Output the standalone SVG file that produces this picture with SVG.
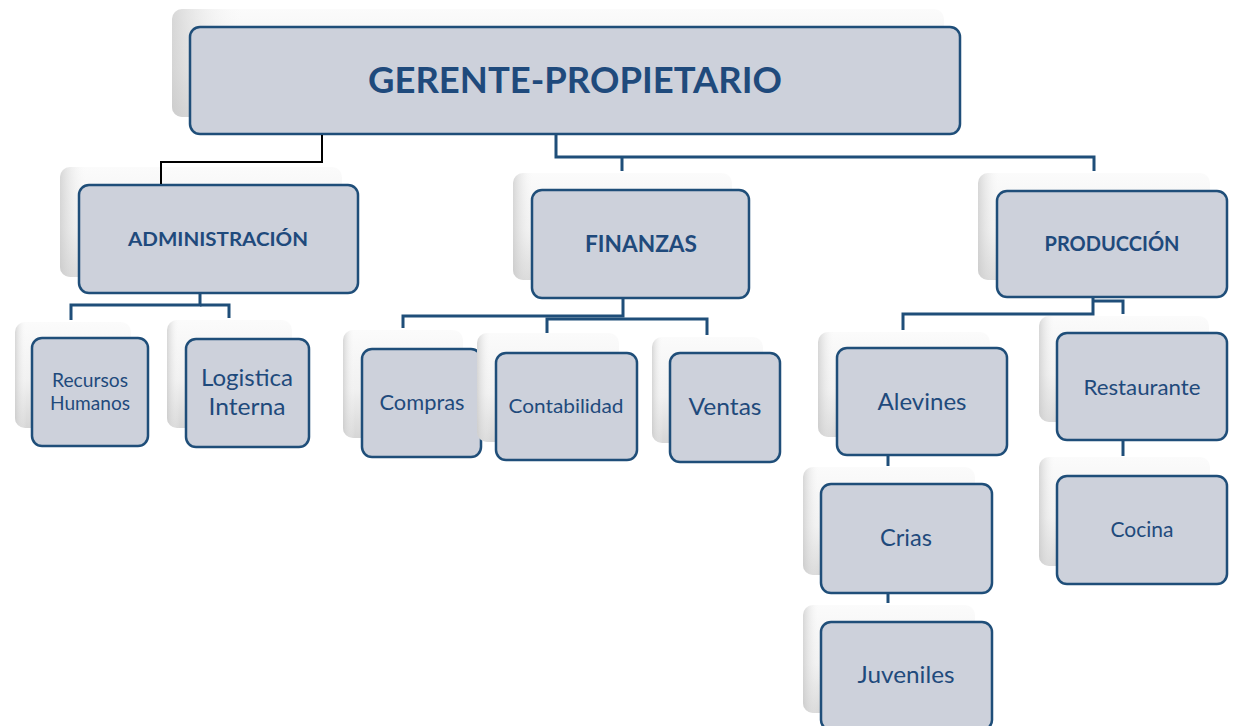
<svg xmlns="http://www.w3.org/2000/svg" width="1237" height="726" viewBox="0 0 1237 726">
<defs>
<linearGradient id="shv" x1="0" y1="0" x2="0" y2="1">
<stop offset="0" stop-color="#fbfbfb"/>
<stop offset="0.55" stop-color="#f1f1f1"/>
<stop offset="1" stop-color="#d6d6d6"/>
</linearGradient>
<linearGradient id="shh" x1="0" y1="0" x2="1" y2="0">
<stop offset="0" stop-color="#c8c8c8" stop-opacity="0.7"/>
<stop offset="0.1" stop-color="#ffffff" stop-opacity="0"/>
<stop offset="1" stop-color="#ffffff" stop-opacity="0"/>
</linearGradient>
</defs>
<style>
.sh{fill:url(#shv);}
.shl{fill:url(#shh);}
.bx{fill:#cdd1db;stroke:#1f4e79;stroke-width:2.5;}
.t{font-family:Lato,"Open Sans","Liberation Sans",sans-serif;fill:#1f4a7c;text-anchor:middle;}
.b{font-weight:bold;}
.c{fill:none;stroke:#1f4e79;stroke-width:3;}
.k{fill:none;stroke:#000000;stroke-width:2;}
</style>
<rect width="1237" height="726" fill="#ffffff"/>

<g id="gerente">
<rect class="sh" x="172" y="9" width="772" height="108" rx="10"/>
<rect class="shl" x="172" y="9" width="772" height="108" rx="10"/>
<rect class="bx" x="190" y="27" width="770" height="107" rx="10"/>
<text class="t b" x="575" y="93" font-size="37" textLength="414" lengthAdjust="spacingAndGlyphs">GERENTE-PROPIETARIO</text>
</g>

<g id="administracion">
<rect class="sh" x="60" y="167" width="282" height="110" rx="10"/>
<rect class="shl" x="60" y="167" width="282" height="110" rx="10"/>
<rect class="bx" x="79" y="185" width="279" height="108" rx="10"/>
<text class="t b" x="218" y="246" font-size="19.5" textLength="180" lengthAdjust="spacingAndGlyphs">ADMINISTRACIÓN</text>
</g>

<g id="finanzas">
<rect class="sh" x="513" y="173" width="219" height="107" rx="10"/>
<rect class="shl" x="513" y="173" width="219" height="107" rx="10"/>
<rect class="bx" x="532" y="190" width="217" height="108" rx="10"/>
<text class="t b" x="641" y="252" font-size="23" textLength="112" lengthAdjust="spacingAndGlyphs">FINANZAS</text>
</g>

<g id="produccion">
<rect class="sh" x="978" y="173" width="232" height="107" rx="10"/>
<rect class="shl" x="978" y="173" width="232" height="107" rx="10"/>
<rect class="bx" x="997" y="191" width="230" height="106" rx="10"/>
<text class="t b" x="1112" y="251" font-size="20.5" textLength="135" lengthAdjust="spacingAndGlyphs">PRODUCCIÓN</text>
</g>

<g id="recursos-humanos">
<rect class="sh" x="15" y="322" width="116" height="106" rx="10"/>
<rect class="shl" x="15" y="322" width="116" height="106" rx="10"/>
<rect class="bx" x="32" y="338" width="116" height="108" rx="10"/>
<text class="t" x="90" y="387" font-size="19" textLength="76" lengthAdjust="spacingAndGlyphs">Recursos</text>
<text class="t" x="90" y="410" font-size="19" textLength="80" lengthAdjust="spacingAndGlyphs">Humanos</text>
</g>

<g id="logistica-interna">
<rect class="sh" x="167" y="320" width="125" height="108" rx="10"/>
<rect class="shl" x="167" y="320" width="125" height="108" rx="10"/>
<rect class="bx" x="186" y="339" width="123" height="108" rx="10"/>
<text class="t" x="247" y="386" font-size="24" textLength="92" lengthAdjust="spacingAndGlyphs">Logistica</text>
<text class="t" x="247" y="415" font-size="24" textLength="77" lengthAdjust="spacingAndGlyphs">Interna</text>
</g>

<g id="compras">
<rect class="sh" x="343" y="330" width="120" height="108" rx="10"/>
<rect class="shl" x="343" y="330" width="120" height="108" rx="10"/>
<rect class="bx" x="362" y="349" width="119" height="108" rx="10"/>
<text class="t" x="422" y="410" font-size="21" textLength="85" lengthAdjust="spacingAndGlyphs">Compras</text>
</g>

<g id="contabilidad">
<rect class="sh" x="477" y="333" width="142" height="109" rx="10"/>
<rect class="shl" x="477" y="333" width="142" height="109" rx="10"/>
<rect class="bx" x="496" y="353" width="141" height="107" rx="10"/>
<text class="t" x="566" y="413" font-size="20" textLength="115" lengthAdjust="spacingAndGlyphs">Contabilidad</text>
</g>

<g id="ventas">
<rect class="sh" x="652" y="337" width="111" height="106" rx="10"/>
<rect class="shl" x="652" y="337" width="111" height="106" rx="10"/>
<rect class="bx" x="670" y="353" width="110" height="109" rx="10"/>
<text class="t" x="725" y="415" font-size="24" textLength="73" lengthAdjust="spacingAndGlyphs">Ventas</text>
</g>

<g id="alevines">
<rect class="sh" x="818" y="332" width="172" height="105" rx="10"/>
<rect class="shl" x="818" y="332" width="172" height="105" rx="10"/>
<rect class="bx" x="837" y="348" width="170" height="107" rx="10"/>
<text class="t" x="922" y="410" font-size="23" textLength="89" lengthAdjust="spacingAndGlyphs">Alevines</text>
</g>

<g id="restaurante">
<rect class="sh" x="1039" y="316" width="170" height="106" rx="10"/>
<rect class="shl" x="1039" y="316" width="170" height="106" rx="10"/>
<rect class="bx" x="1057" y="333" width="170" height="107" rx="10"/>
<text class="t" x="1142" y="395" font-size="21" textLength="117" lengthAdjust="spacingAndGlyphs">Restaurante</text>
</g>

<g id="crias">
<rect class="sh" x="803" y="467" width="172" height="108" rx="10"/>
<rect class="shl" x="803" y="467" width="172" height="108" rx="10"/>
<rect class="bx" x="821" y="484" width="171" height="109" rx="10"/>
<text class="t" x="906" y="546" font-size="24" textLength="52" lengthAdjust="spacingAndGlyphs">Crias</text>
</g>

<g id="cocina">
<rect class="sh" x="1039" y="457" width="171" height="109" rx="10"/>
<rect class="shl" x="1039" y="457" width="171" height="109" rx="10"/>
<rect class="bx" x="1057" y="476" width="170" height="108" rx="10"/>
<text class="t" x="1142" y="537" font-size="21" textLength="63" lengthAdjust="spacingAndGlyphs">Cocina</text>
</g>

<g id="juveniles">
<rect class="sh" x="803" y="605" width="172" height="108" rx="10"/>
<rect class="shl" x="803" y="605" width="172" height="108" rx="10"/>
<rect class="bx" x="821" y="622" width="171" height="108" rx="10"/>
<text class="t" x="906" y="683" font-size="23" textLength="97" lengthAdjust="spacingAndGlyphs">Juveniles</text>
</g>

<g id="connectors">
<polyline class="k" points="322,135 322,162 161,162 161,184"/>
<polyline class="c" points="556,135 556,157 1094,157 1094,171"/>
<line class="c" x1="622" y1="157" x2="622" y2="171"/>
<polyline class="c" points="200,294 200,305 71,305 71,320"/>
<polyline class="c" points="200,305 229,305 229,318"/>
<polyline class="c" points="623,299 623,316 403,316 403,328"/>
<polyline class="c" points="623,319 707,319 707,335"/>
<polyline class="c" points="623,319 547,319 547,333"/>
<polyline class="c" points="1093,298 1093,314 903,314 903,330"/>
<polyline class="c" points="1093,301 1123,301 1123,314"/>
<line class="c" x1="888" y1="456" x2="888" y2="466"/>
<line class="c" x1="888" y1="594" x2="888" y2="603"/>
<line class="c" x1="1123" y1="441" x2="1123" y2="456"/>
</g>
</svg>
